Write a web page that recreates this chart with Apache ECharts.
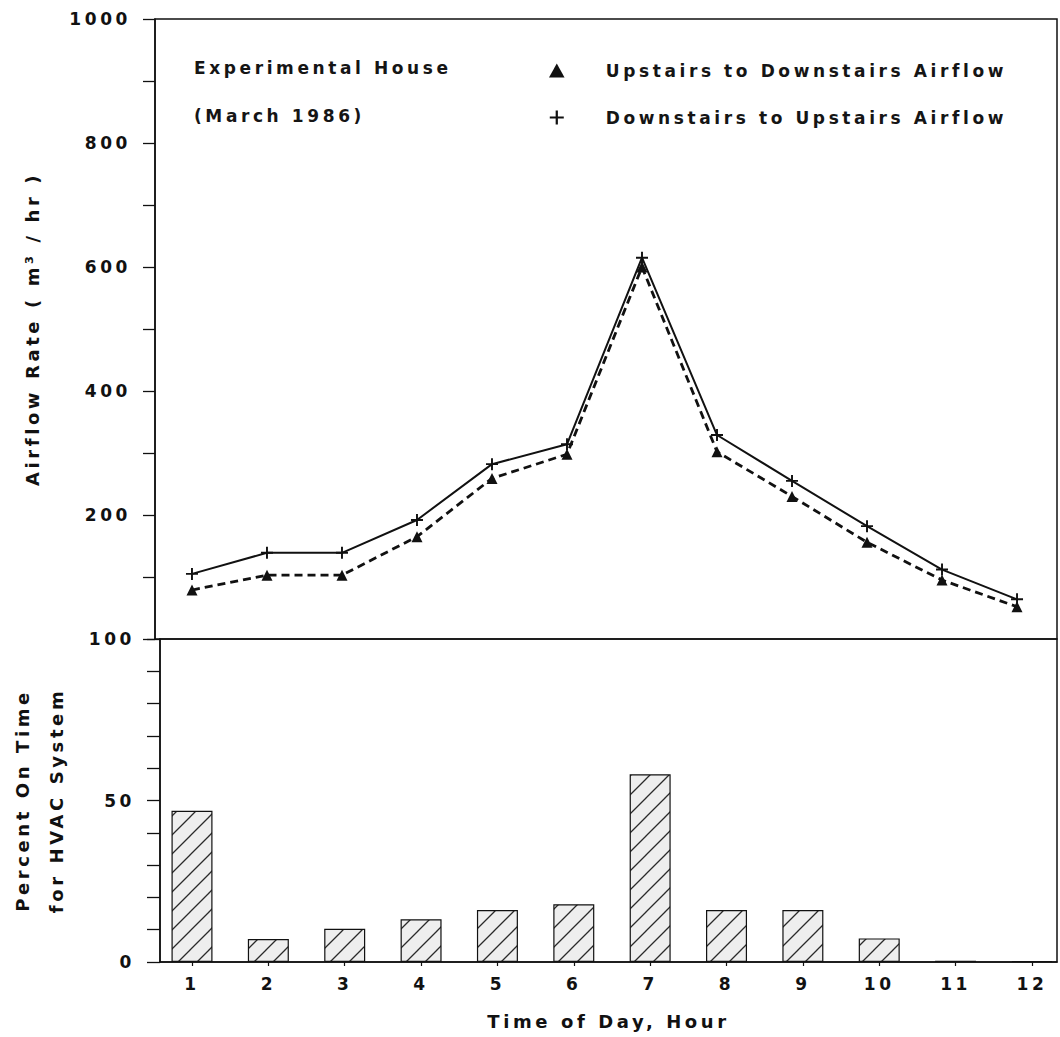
<!DOCTYPE html>
<html><head><meta charset="utf-8">
<script src="https://cdn.jsdelivr.net/npm/echarts@6/dist/echarts.min.js"></script>
<style>
html,body{margin:0;padding:0;background:#fff;}
#chart{width:1060px;height:1037px;}
#chart text{letter-spacing:3.6px;}
</style></head><body><div id="chart"></div>
<script>
// ---- data ----
const hours = [1,2,3,4,5,6,7,8,9,10,11,12];
const upToDown = [79,103,103,165,259,298,600,302,230,156,95,52];
const downToUp = [105,139,139,192,282,314,615,329,255,182,112,64];
const hvacOnPercent = [46.8,7.1,10.3,13.2,16.1,17.9,58.1,16.1,16.1,7.3,0.4,0.3];
const airflowTickLabels = [200,400,600,800,1000];
const percentTickLabels = [0,50,100];
const seriesNames = ['Upstairs to Downstairs Airflow','Downstairs to Upstairs Airflow'];

// ---- style ----
const FONT = 'DejaVu Sans';
const INK = '#111111';
const PLUS = 'path://M8.4,0 H11.6 V8.4 H20 V11.6 H11.6 V20 H8.4 V11.6 H0 V8.4 H8.4 Z';
const TRI = 'path://M10,0 L20,18 L0,18 Z';

function hatch(){
  const s = 19;
  const c = document.createElement('canvas'); c.width = s; c.height = s;
  const g = c.getContext('2d');
  g.fillStyle = '#eeeeee'; g.fillRect(0,0,s,s);
  g.strokeStyle = '#2a2a2a'; g.lineWidth = 1.3;
  g.beginPath();
  g.moveTo(-2,s+2); g.lineTo(s+2,-2);
  g.moveTo(-2,2); g.lineTo(2,-2);
  g.moveTo(s-2,s+2); g.lineTo(s+2,s-2);
  g.stroke();
  return {image: c.toDataURL(), repeat:'repeat', imageWidth: s, imageHeight: s};
}

const chart = echarts.init(document.getElementById('chart'), null, {renderer:'svg'});
const axisLine = {show:true, lineStyle:{color:INK, width:1.5}};
const labelStyle = {fontSize:17, fontWeight:'bold', color:INK, fontFamily:FONT};
const noteStyle = {fontSize:17, fontWeight:'bold', color:'#151515', fontFamily:FONT};

chart.setOption({
  animation:false,
  backgroundColor:'#ffffff',
  title:{
    text:'Experimental House', subtext:'(March 1986)',
    left:194, top:59, padding:0, itemGap:31,
    textStyle:noteStyle,
    subtextStyle:noteStyle
  },
  legend:{
    data:[{name:seriesNames[0], icon:TRI},{name:seriesNames[1], icon:PLUS}],
    orient:'vertical', left:544, top:57, itemWidth:88, itemHeight:14, itemGap:30,
    symbolKeepAspect:true,
    selectedMode:false,
    textStyle:noteStyle
  },
  grid:[
    {left:155, top:19, width:902, height:620, show:true, borderColor:INK, borderWidth:1.5, outerBoundsMode:'none', containLabel:false},
    {left:160, top:639, width:897, height:323, show:true, borderColor:INK, borderWidth:1.5, outerBoundsMode:'none', containLabel:false}
  ],
  xAxis:[
    {gridIndex:0, type:'value', min:0.507, max:12.533, show:false},
    {gridIndex:1, type:'value', min:0.581, max:12.328,
     axisLine:axisLine,
     axisTick:{show:true, customValues:hours, length:4, lineStyle:{color:INK, width:1.2}},
     axisLabel:Object.assign({customValues:hours, margin:13}, labelStyle),
     splitLine:{show:false},
     name:'Time of Day, Hour', nameLocation:'middle', nameGap:50,
     nameTextStyle:{fontSize:18, fontWeight:'bold', color:INK, fontFamily:FONT}}
  ],
  yAxis:[
    {gridIndex:0, type:'value', min:0, max:1000, interval:100,
     axisLine:axisLine,
     axisTick:{show:true, length:12, lineStyle:{color:INK, width:1.3}},
     axisLabel:Object.assign({margin:24, formatter:v => airflowTickLabels.includes(v) ? String(v) : ''}, labelStyle),
     splitLine:{show:false},
     name:'Airflow Rate ( m³ / hr )', nameLocation:'middle', nameGap:114, nameRotate:90,
     nameTextStyle:{fontSize:18, fontWeight:'bold', color:INK, fontFamily:FONT}},
    {gridIndex:1, type:'value', min:0, max:100, interval:10,
     axisLine:axisLine,
     axisTick:{show:true, length:13, lineStyle:{color:INK, width:1.3}},
     axisLabel:Object.assign({margin:25, formatter:v => percentTickLabels.includes(v) ? String(v) : ''}, labelStyle),
     splitLine:{show:false},
     name:'Percent On Time\nfor HVAC System', nameLocation:'middle', nameGap:87, nameRotate:90,
     nameTextStyle:{fontSize:18, fontWeight:'bold', color:INK, fontFamily:FONT, lineHeight:34}}
  ],
  series:[
    {name:seriesNames[0], type:'line', xAxisIndex:0, yAxisIndex:0,
     data:hours.map((h,i)=>[h, upToDown[i]]),
     symbol:'triangle', symbolSize:11,
     lineStyle:{color:INK, width:2.8, type:[8,5]},
     itemStyle:{color:INK}, z:2},
    {name:seriesNames[1], type:'line', xAxisIndex:0, yAxisIndex:0,
     data:hours.map((h,i)=>[h, downToUp[i]]),
     symbol:PLUS, symbolSize:12,
     lineStyle:{color:INK, width:2},
     itemStyle:{color:INK}, z:3},
    {name:'Percent On Time', type:'bar', xAxisIndex:1, yAxisIndex:1,
     data:hours.map((h,i)=>[h, hvacOnPercent[i]]),
     barWidth:41,
     itemStyle:{color:hatch(), borderColor:INK, borderWidth:1.2}}
  ]
});
</script></body></html>
